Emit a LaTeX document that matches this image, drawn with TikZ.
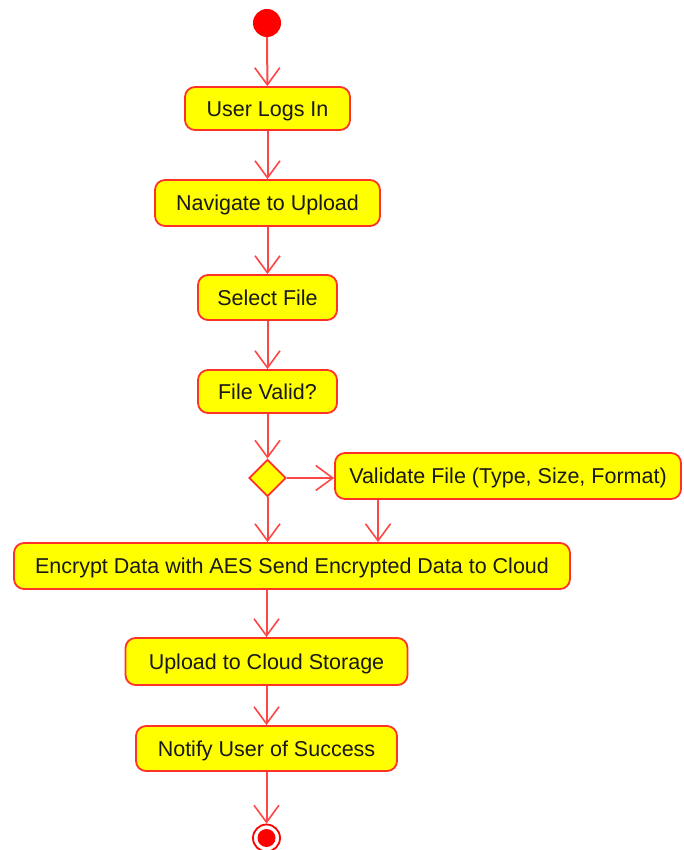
\documentclass[tikz,border=0pt]{standalone}
\usepackage{fontspec}
\setmainfont{Liberation Sans}
\usetikzlibrary{arrows.meta,shapes.geometric}
\definecolor{flowred}{RGB}{255,70,70}
\definecolor{boxedge}{RGB}{255,50,40}
\definecolor{boxfill}{RGB}{255,255,0}
\tikzset{
  act/.style={draw=boxedge, fill=boxfill, line width=1.8pt, rounded corners=10pt,
    font=\fontsize{21.5}{24}\selectfont, text=black!90, inner sep=0pt,
    text height=15.4pt, text depth=0pt},
  flow/.style={draw=flowred, line width=2pt,
    -{Straight Barb[length=17pt,width=25pt,line width=1.6pt]}},
  decision/.style={diamond, draw=boxedge, fill=boxfill, line width=1.8pt,
    minimum width=37pt, minimum height=37pt, inner sep=0pt},
}
\begin{document}
\begin{tikzpicture}[x=1pt,y=-1pt]
\useasboundingbox (0,0) rectangle (684,850);
% start node
\node[circle, fill=red, minimum size=28pt, inner sep=0pt] (start) at (267,23) {};
% actions
\node[act, minimum width=165pt, minimum height=43pt] (login) at (267.5,108.5) {User Logs In};
\node[act, minimum width=225pt, minimum height=46pt] (nav) at (267.5,203) {Navigate to Upload};
\node[act, minimum width=139pt, minimum height=45pt] (select) at (267.5,297.5) {Select File};
\node[act, minimum width=139pt, minimum height=43pt] (valid) at (267.5,391.5) {File Valid?};
\node[decision] (dec) at (267.5,478) {};
\node[act, minimum width=346pt, minimum height=46pt] (validate) at (508,476) {Validate File (Type, Size, Format)};
\node[act, minimum width=556pt, minimum height=46pt] (encrypt) at (292,566) {Encrypt Data with AES Send Encrypted Data to Cloud};
\node[act, minimum width=282pt, minimum height=47pt] (upload) at (266.5,661.5) {Upload to Cloud Storage};
\node[act, minimum width=261pt, minimum height=45pt] (notify) at (266.5,748.5) {Notify User of Success};
% end node
\node[circle, draw=red, line width=1.8pt, fill=white, minimum size=27pt, inner sep=0pt] (end) at (266.5,838) {};
\fill[red] (end.center) circle (9pt);
% connectors
\draw[flow] (start) -- (login);
\draw[flow] (login) -- (nav);
\draw[flow] (nav) -- (select);
\draw[flow] (select) -- (valid);
\draw[flow] (valid) -- (dec);
\draw[flow] (dec.east) -- (dec.east -| validate.west);
\draw[flow] (dec.south) -- (dec.south |- encrypt.north);
\coordinate (vdrop) at (378,0);
\draw[flow] (vdrop |- validate.south) -- (vdrop |- encrypt.north);
\draw[flow] (encrypt.south -| upload.north) -- (upload);
\draw[flow] (upload) -- (notify);
\draw[flow] (notify) -- (end);
\end{tikzpicture}
\end{document}
